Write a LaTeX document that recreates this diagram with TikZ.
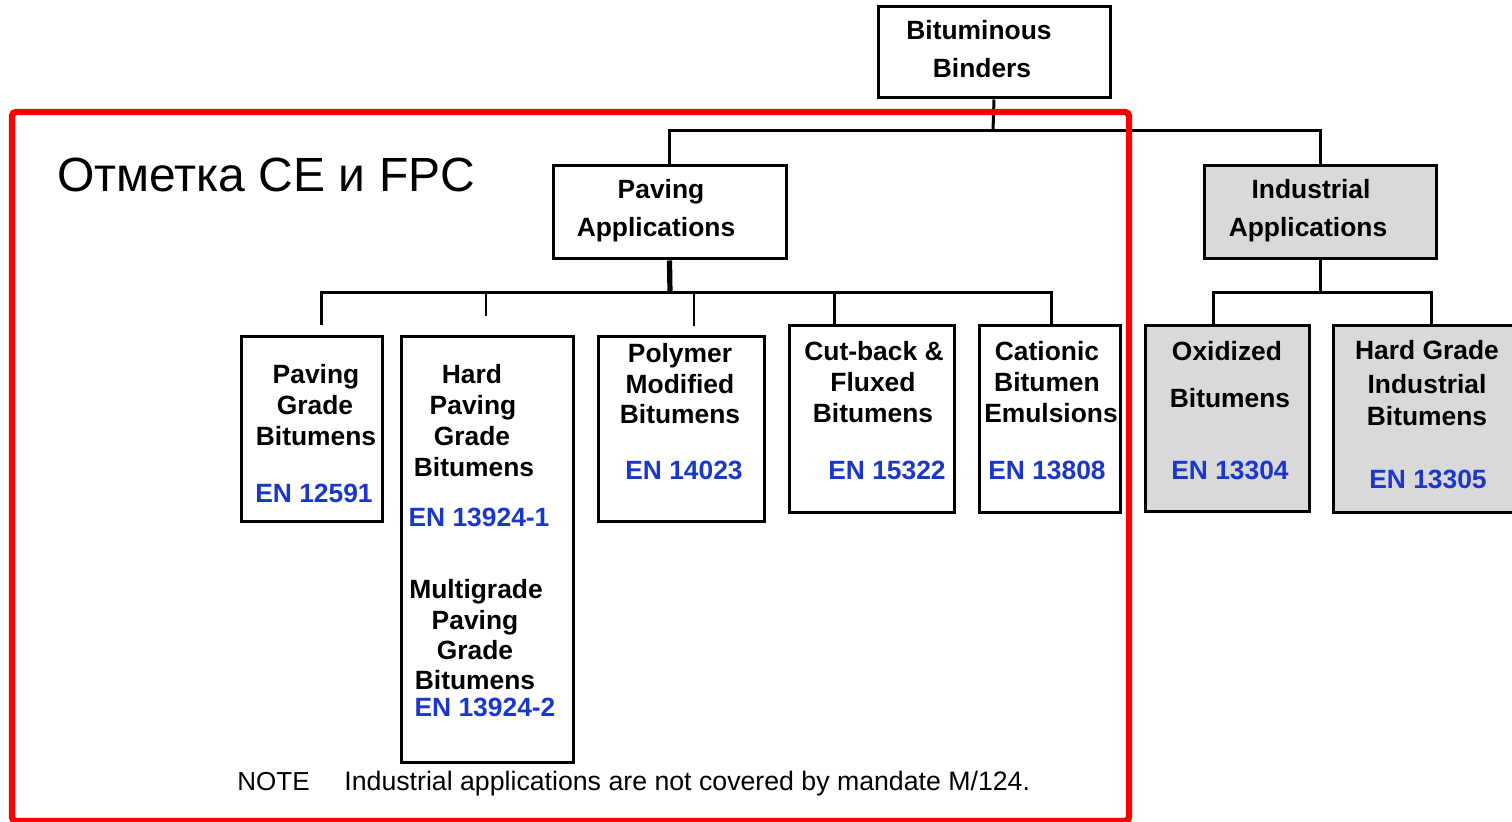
\documentclass[tikz,border=0pt]{standalone}
\usepackage{fontspec}
\setmainfont{Liberation Sans}
\definecolor{enblue}{RGB}{25,55,205}
\definecolor{boxgray}{RGB}{217,217,217}
\definecolor{markred}{RGB}{255,0,0}
\begin{document}
\begin{tikzpicture}[x=0.5pt,y=-0.5pt,
  box/.style={draw=black, line width=1.5pt, inner sep=0pt},
  graybox/.style={box, fill=boxgray},
  conn/.style={draw=black, line width=1.5pt},
  thinconn/.style={draw=black, line width=1pt},
  thickconn/.style={draw=black, line width=2.6pt},
  t/.style={font=\bfseries\fontsize{13.2}{15}\selectfont, anchor=base, inner sep=0pt},
  en/.style={t, text=enblue},
  redframe/.style={draw=markred, line width=3.2pt, rounded corners=2pt}
]
\useasboundingbox (0,0) rectangle (1512,822);

% boxes
\node[box, minimum width=116pt, minimum height=45.5pt] (root) at (994,52.5) {};
\node[box, minimum width=116.5pt, minimum height=46.5pt] (pav) at (669.5,212.5) {};
\node[graybox, minimum width=116pt, minimum height=46.5pt] (ind) at (1320,212.5) {};
\node[box, minimum width=70.5pt, minimum height=92.5pt] (pgb) at (311.5,429.5) {};
\node[box, minimum width=86pt, minimum height=213pt] (hpg) at (487,550) {};
\node[box, minimum width=83pt, minimum height=92.5pt] (pmb) at (681,429.5) {};
\node[box, minimum width=82.5pt, minimum height=93.5pt] (cut) at (871.5,419.5) {};
\node[box, minimum width=70.5pt, minimum height=93.5pt] (cat) at (1049.5,419.5) {};
\node[graybox, minimum width=82pt, minimum height=93pt] (oxi) at (1227,419) {};
\node[graybox, minimum width=90.5pt, minimum height=93.5pt] (hgi) at (1423.5,419.5) {};

% connectors: root
\coordinate (j0) at (993,131);
\draw[conn] (root.south) -- (j0);
\draw[conn] (pav.north) -- (pav.north |- j0) -- (ind.north |- j0) -- (ind.north);

% connectors: paving
\coordinate (j1) at (670,293);
\coordinate (d1) at (321,325);
\coordinate (d2) at (486,316);
\coordinate (d3) at (694,326);
\coordinate (d4) at (834,326);
\coordinate (d5) at (1051,326);
\draw[thickconn] (pav.south) -- (j1);
\draw[conn] (d1) -- (d1 |- j1) -- (d5 |- j1) -- (d5);
\draw[conn] (d4 |- j1) -- (d4);
\draw[thinconn] (d2 |- j1) -- (d2);
\draw[thinconn] (d3 |- j1) -- (d3);

% connectors: industrial
\coordinate (j2) at (1320,293);
\coordinate (d6) at (1213,326);
\coordinate (d7) at (1431,326);
\draw[conn] (ind.south) -- (j2);
\draw[conn] (d6) -- (d6 |- j2) -- (d7 |- j2) -- (d7);

% texts
\node[t] (root1) at (979,39.5) {Bituminous};
\node[t] (root2) at (982,77.5) {Binders};
\node[t] (pav1) at (661,198.5) {Paving};
\node[t] (pav2) at (656,236.5) {Applications};
\node[t] (ind1) at (1311,198.5) {Industrial};
\node[t] (ind2) at (1308,236.5) {Applications};

\node[t] (pgb1) at (316,383.5) {Paving};
\node[t] (pgb2) at (315,414.5) {Grade};
\node[t] (pgb3) at (316,445.5) {Bitumens};
\node[en] (pgb4) at (314,503) {EN 12591};

\node[t] (hpg1) at (472,383.5) {Hard};
\node[t] (hpg2) at (473,414.5) {Paving};
\node[t] (hpg3) at (472,445.5) {Grade};
\node[t] (hpg4) at (474,476.5) {Bitumens};
\node[en] (hpg5) at (479,527) {EN 13924-1};
\node[t] (hpg6) at (476,598.5) {Multigrade};
\node[t] (hpg7) at (475,629.5) {Paving};
\node[t] (hpg8) at (475,659.5) {Grade};
\node[t] (hpg9) at (475,689.5) {Bitumens};
\node[en] (hpg10) at (485,716.5) {EN 13924-2};

\node[t] (pmb1) at (680,362.5) {Polymer};
\node[t] (pmb2) at (680,393.5) {Modified};
\node[t] (pmb3) at (680,423.5) {Bitumens};
\node[en] (pmb4) at (684,480) {EN 14023};

\node[t] (cut1) at (874,360.5) {Cut-back \&};
\node[t] (cut2) at (873,391.5) {Fluxed};
\node[t] (cut3) at (873,422.5) {Bitumens};
\node[en] (cut4) at (887,480) {EN 15322};

\node[t] (cat1) at (1047,360.5) {Cationic};
\node[t] (cat2) at (1047,391.5) {Bitumen};
\node[t] (cat3) at (1051,422.5) {Emulsions};
\node[en] (cat4) at (1047,480) {EN 13808};

\node[t] (oxi1) at (1227,360.5) {Oxidized};
\node[t] (oxi2) at (1230,407.5) {Bitumens};
\node[en] (oxi3) at (1230,480) {EN 13304};

\node[t] (hgi1) at (1427,359.5) {Hard Grade};
\node[t] (hgi2) at (1427,393.5) {Industrial};
\node[t] (hgi3) at (1427,425.5) {Bitumens};
\node[en] (hgi4) at (1428,488.5) {EN 13305};

% title and note
\node[anchor=base west, inner sep=0pt, font=\fontsize{24}{27}\selectfont] (title) at (57,192) {Отметка CE и FPC};
\node[anchor=base west, inner sep=0pt, font=\fontsize{13}{15}\selectfont] (note1) at (237,791) {NOTE};
\node[anchor=base west, inner sep=0pt, font=\fontsize{13.35}{15}\selectfont] (note2) at (344,791) {Industrial applications are not covered by mandate M/124.};

% red frame
\draw[redframe] (12,112) rectangle (1129,821);
\end{tikzpicture}
\end{document}
